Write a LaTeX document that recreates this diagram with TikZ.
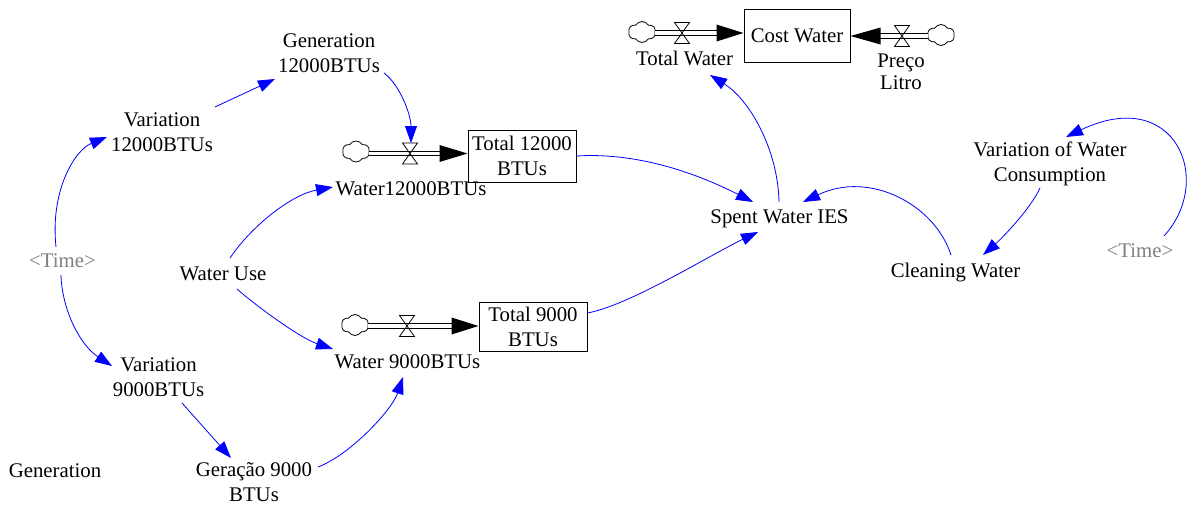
\documentclass[tikz,border=0pt]{standalone}
\usepackage{fontspec}
\setmainfont{Liberation Serif}
\usetikzlibrary{arrows.meta,calc,shapes.symbols}
\definecolor{linkblue}{RGB}{0,0,255}
\definecolor{timegray}{RGB}{128,128,128}
\tikzset{
  valve/.pic={\draw[line width=0.8pt] (-7.5,-10.5) -- (7.5,-10.5) -- (-7.5,10.5) -- (7.5,10.5) -- cycle;}
}
\begin{document}
\begin{tikzpicture}[x=1pt,y=-1pt,
  lbl/.style={align=center,inner sep=0pt,font=\fontsize{20.8}{25}\selectfont},
  lblb/.style={lbl,anchor=base},
  stock/.style={draw,line width=1pt,inner sep=0pt,align=center,font=\fontsize{20.8}{25}\selectfont},
  cloudnode/.style={cloud,cloud puffs=6,cloud puff arc=120,aspect=1.3,draw,line width=0.8pt,minimum width=27pt,minimum height=21pt,inner sep=0pt},
  link/.style={draw=linkblue,line width=0.8pt,-{Triangle[length=17pt,width=12pt,fill=linkblue]}},
  pipe/.style={draw=black,double=white,double distance=3.5pt,line width=1.1pt},
  flowhead/.style={fill=black}
]
\fill[white] (0,0) rectangle (1187,506);
\useasboundingbox (0,0) rectangle (1187,506);

% auxiliaries and flows
\node[lbl] (gen12) at (329,53.4) {Generation\\12000BTUs};
\node[lbl] (var12) at (162,132.4) {Variation\\12000BTUs};
\node[lblb,text=timegray] (timeL) at (62.5,267) {<Time>};
\node[lbl] (var9) at (158.5,377.4) {Variation\\9000BTUs};
\node[lblb] (genlone) at (55,477) {Generation};
\node[lbl] (ger9) at (254,482.4) {Geração 9000\\BTUs};
\node[lblb] (wuse) at (223,280) {Water Use};
\node[lblb] (w12) at (411,195) {Water12000BTUs};
\node[lblb] (w9) at (407.5,368) {Water 9000BTUs};
\node[lblb] (twater) at (684.5,65) {Total Water};
\node[lbl,font=\fontsize{20.8}{21.5}\selectfont] (preco) at (901,72) {Preço\\Litro};
\node[lblb] (spent) at (779.5,223) {Spent Water IES};
\node[lbl] (varwc) at (1050,164.2) {Variation of Water\\Consumption};
\node[lblb] (clean) at (955.5,277) {Cleaning Water};
\node[lblb,text=timegray] (timeR) at (1140,257) {<Time>};

% stocks
\node[stock,minimum width=108pt,minimum height=52pt] (t12) at (522,156) {Total 12000\\BTUs};
\node[stock,minimum width=108pt,minimum height=49pt] (t9) at (533,326.5) {Total 9000\\BTUs};
\node[stock,minimum width=106pt,minimum height=53pt] (cost) at (797,35.5) {Cost Water};

% clouds
\node[cloudnode] (c12) at (356,151.5) {};
\node[cloudnode] (c9) at (355,325) {};
\node[cloudnode] (cL) at (642,32) {};
\node[cloudnode] (cR) at (941,35) {};

% valves
\coordinate (v12) at (410,153.5);
\coordinate (v9) at (407,326);
\coordinate (vL) at (682,33);
\coordinate (vR) at (902,36);

% pipes
\coordinate (h12) at (t12.west |- v12);
\coordinate (h9) at (t9.west |- v9);
\coordinate (hL) at (cost.west |- vL);
\coordinate (hR) at (cost.east |- vR);
\draw[pipe] (c12.east |- v12) -- ($(h12)+(-26,0)$);
\fill[flowhead] ($(h12)+(-28,-8.5)$) -- (h12) -- ($(h12)+(-28,8.5)$) -- cycle;
\draw[pipe] (c9.east |- v9) -- ($(h9)+(-25,0)$);
\fill[flowhead] ($(h9)+(-27,-8.5)$) -- (h9) -- ($(h9)+(-27,8.5)$) -- cycle;
\draw[pipe] (cL.east |- vL) -- ($(hL)+(-25,0)$);
\fill[flowhead] ($(hL)+(-27,-8.5)$) -- (hL) -- ($(hL)+(-27,8.5)$) -- cycle;
\draw[pipe] (cR.west |- vR) -- ($(hR)+(28,0)$);
\fill[flowhead] ($(hR)+(30,-8.5)$) -- (hR) -- ($(hR)+(30,8.5)$) -- cycle;
\pic at (v12) {valve};
\pic at (v9) {valve};
\pic at (vL) {valve};
\pic at (vR) {valve};

% causal links
\draw[link] ($(var12)+(53,-25.4)$) -- ($(gen12)+(-54,25.6)$);
\draw[link] ($(gen12)+(55,19.6)$) .. controls (400,85) and (411,115) .. ($(v12)+(1,-10.5)$);
\draw[link] ($(timeL.base)+(-6.5,-20)$) .. controls (50,190) and (75,150) .. ($(var12)+(-55,4.6)$);
\draw[link] ($(timeL.base)+(-1.5,8)$) .. controls (62,310) and (80,345) .. ($(var9)+(-46.5,-11.4)$);
\draw[link] ($(var9)+(23.5,25.6)$) -- ($(ger9)+(-23,-24.4)$);
\draw[link] ($(ger9)+(64,-15.4)$) .. controls (350,455) and (392,410) .. ($(w9.base)+(-4.5,9)$);
\draw[link] ($(wuse.base)+(7,-22)$) .. controls (250,228) and (290,195) .. ($(w12.base)+(-78,-8)$);
\draw[link] ($(wuse.base)+(14,9)$) .. controls (255,305) and (300,338) .. ($(w9.base)+(-74.5,-19)$);
\draw[link] (t12.east) .. controls (640,152) and (700,175) .. ($(spent.base)+(-26.5,-21)$);
\draw[link] ($(t9.east)+(0,-13.5)$) .. controls (630,305) and (710,255) .. ($(spent.base)+(-21.5,9)$);
\draw[link] ($(spent.base)+(-0.5,-21)$) .. controls (778,150) and (750,100) .. ($(twater.base)+(25.5,10)$);
\draw[link] ($(clean.base)+(-4.5,-22)$) .. controls (935,205) and (870,170) .. ($(spent.base)+(23.5,-21)$);
\draw[link] ($(varwc)+(-10,23.8)$) .. controls (1030,210) and (1000,240) .. ($(clean.base)+(27.5,-22)$);
\draw[link] ($(timeR.base)+(24,-21)$) .. controls (1215,180) and (1175,85) .. ($(varwc)+(16,-27.2)$);
\end{tikzpicture}
\end{document}
